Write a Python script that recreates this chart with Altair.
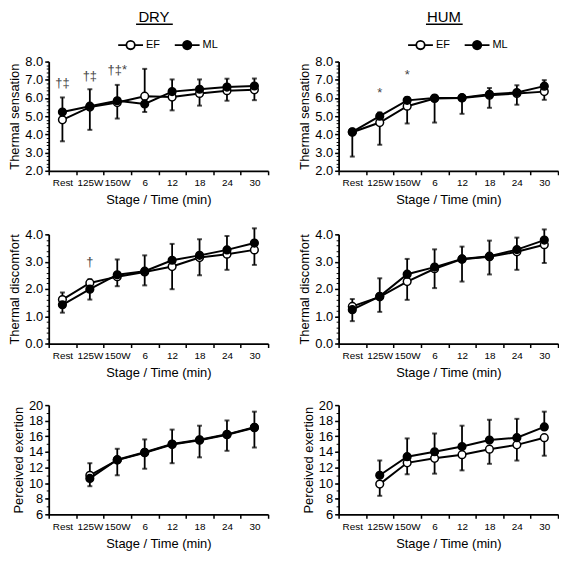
import altair as alt
import pandas as pd

FONT = "Liberation Sans"

stages = ["Rest", "125W", "150W", "6", "12", "18", "24", "30"]
groups = ["EF", "ML"]

# ---- DRY : thermal sensation ----
dry_ts_ef = [4.80, 5.50, 5.75, 6.10, 6.05, 6.25, 6.40, 6.45]
dry_ts_ef_err = [3.62, 4.25, 4.87, 7.60, 5.32, 5.58, 5.85, 5.88]
dry_ts_ml = [5.23, 5.55, 5.85, 5.67, 6.35, 6.48, 6.60, 6.66]
dry_ts_ml_err = [6.03, 6.48, 6.72, 5.23, 7.02, 7.02, 7.06, 7.07]
dry_ts_ann_stage = ["Rest", "125W", "150W"]
dry_ts_ann_y = [6.80, 7.20, 7.55]
dry_ts_ann_text = ["†‡", "†‡", "†‡*"]

# ---- HUM : thermal sensation ----
hum_ts_ef = [4.12, 4.65, 5.55, 5.97, 6.00, 6.15, 6.25, 6.35]
hum_ts_ef_err = [2.78, 3.43, 4.60, 4.65, 5.13, 5.46, 5.63, 5.90]
hum_ts_ml = [4.14, 5.00, 5.87, 6.00, 6.02, 6.20, 6.30, 6.65]
hum_ts_ml_err = [4.30, 5.20, 6.05, 6.15, 6.15, 6.55, 6.70, 6.98]
hum_ts_ann_stage = ["125W", "150W"]
hum_ts_ann_y = [6.25, 7.28]
hum_ts_ann_text = ["*", "*"]

# ---- DRY : thermal discomfort ----
dry_td_ef = [1.61, 2.22, 2.45, 2.62, 2.82, 3.15, 3.27, 3.43]
dry_td_ef_err = [1.87, 2.35, 2.10, 2.13, 1.99, 2.50, 2.70, 2.88]
dry_td_ml = [1.42, 1.99, 2.52, 2.65, 3.05, 3.23, 3.43, 3.68]
dry_td_ml_err = [1.13, 1.61, 3.08, 3.23, 3.65, 3.82, 3.94, 4.22]
dry_td_ann_stage = ["125W"]
dry_td_ann_y = [3.00]
dry_td_ann_text = ["†"]

# ---- HUM : thermal discomfort ----
hum_td_ef = [1.36, 1.71, 2.27, 2.74, 3.09, 3.18, 3.36, 3.62]
hum_td_ef_err = [1.63, 1.16, 1.60, 2.03, 2.27, 2.53, 2.70, 2.95]
hum_td_ml = [1.24, 1.73, 2.54, 2.80, 3.10, 3.20, 3.44, 3.79]
hum_td_ml_err = [0.82, 2.39, 3.10, 3.45, 3.55, 3.77, 3.88, 4.18]

# ---- DRY : perceived exertion ----
dry_pe_ef = [None, 11.00, 12.95, 13.90, 14.95, 15.50, 16.20, 17.10]
dry_pe_ef_err = [None, 12.55, 11.00, 11.84, 12.55, 13.30, 14.14, 14.56]
dry_pe_ml = [None, 10.60, 13.00, 13.95, 15.00, 15.55, 16.25, 17.15]
dry_pe_ml_err = [None, 9.60, 14.40, 15.60, 16.86, 17.36, 18.03, 19.16]

# ---- HUM : perceived exertion ----
hum_pe_ef = [None, 9.87, 12.60, 13.18, 13.64, 14.35, 14.90, 15.82]
hum_pe_ef_err = [None, 8.37, 11.13, 11.21, 11.63, 12.47, 12.89, 13.51]
hum_pe_ml = [None, 11.00, 13.39, 14.02, 14.69, 15.52, 15.82, 17.20]
hum_pe_ml_err = [None, 12.90, 15.73, 16.36, 17.36, 18.12, 18.24, 19.16]

ts_major = [2, 3, 4, 5, 6, 7, 8]
ts_minor = [round(2 + 0.2 * i, 1) for i in range(31)]
td_major = [0, 1, 2, 3, 4]
td_minor = [round(0.2 * i, 1) for i in range(21)]
pe_major = [6, 8, 10, 12, 14, 16, 18, 20]
pe_minor = list(range(6, 21))

LEGEND_SYMBOL = ("M-1,0L-0.34,0M0.34,0L1,0M-0.34,0A0.34,0.34,0,1,0,0.34,0"
                 "A0.34,0.34,0,1,0,-0.34,0Z")

W, H = 221, 110


def make_df(ef, ef_err, ml, ml_err):
    rows = []
    for g, m, e in (("EF", ef, ef_err), ("ML", ml, ml_err)):
        for i, (s, mv, ev) in enumerate(zip(stages, m, e)):
            if mv is None:
                continue
            rows.append({"stage": s, "idx": i, "group": g, "mean": mv, "err": ev})
    return pd.DataFrame(rows)


def panel(df, ytitle, ydomain, major, minor, fmt, ann=None, heading=None,
          legend=False):
    xaxis = alt.Axis(title="Stage / Time (min)", labelAngle=0, tickBand="extent",
                     labelFontSize=10, titleFontSize=13, tickSize=4,
                     labelPadding=3, titlePadding=6, domainWidth=1.8,
                     tickWidth=1.5)
    xenc = alt.X("stage:N", sort=stages,
                 scale=alt.Scale(domain=stages, paddingInner=0, paddingOuter=0),
                 axis=xaxis)
    yscale = alt.Scale(domain=ydomain, nice=False, zero=False)
    base = alt.Chart(df)
    lines = base.mark_line(color="black", strokeWidth=2).encode(
        x=xenc,
        y=alt.Y("mean:Q", scale=yscale,
                axis=alt.Axis(values=major, format=fmt, title=ytitle,
                              labelFontSize=13, titleFontSize=13, tickSize=4,
                              labelPadding=2, titlePadding=3, domainWidth=1.8,
                              tickWidth=1.5)),
        detail="group:N",
        order="idx:Q",
    )
    bars = base.mark_rule(color="black", strokeWidth=1.8).encode(
        x=xenc,
        y=alt.Y("mean:Q", scale=yscale,
                axis=alt.Axis(values=minor, labels=False, domain=False,
                              title=None, tickSize=2.5, tickWidth=1,
                              orient="left")),
        y2="err:Q",
    )
    caps = base.mark_tick(color="black", size=5, thickness=2,
                          orient="horizontal").encode(
        x=xenc, y=alt.Y("err:Q", scale=yscale, axis=None))
    if legend:
        leg = alt.Legend(title=None, orient="none", legendX=69, legendY=-30.5,
                         direction="horizontal", symbolType=LEGEND_SYMBOL,
                         symbolSize=625, symbolStrokeColor="black",
                         symbolStrokeWidth=1.8, labelFontSize=11,
                         labelFont=FONT, labelColor="black", labelOffset=2,
                         columnPadding=10, padding=0)
    else:
        leg = None
    points = base.mark_point(shape="circle", filled=True, size=60,
                             stroke="black", strokeWidth=1.5, opacity=1).encode(
        x=xenc,
        y=alt.Y("mean:Q", scale=yscale, axis=None),
        fill=alt.Fill("group:N",
                      scale=alt.Scale(domain=groups, range=["white", "black"]),
                      legend=leg),
    )
    layers = [lines, bars, caps, points]
    if ann is not None:
        adf = pd.DataFrame({"stage": ann[0], "y": ann[1], "t": ann[2]})
        txt = alt.Chart(adf).mark_text(fontSize=13, color="#444", font=FONT,
                                       baseline="middle").encode(
            x=xenc, y=alt.Y("y:Q", scale=yscale, axis=None), text="t:N")
        layers.append(txt)
    if heading is not None:
        hdf = pd.DataFrame({"h": [heading]})
        head = alt.Chart(hdf).mark_text(fontSize=15, font=FONT, color="black",
                                        baseline="alphabetic",
                                        align="center").encode(
            x=alt.value(106), y=alt.value(-40), text="h:N")
        ul = alt.Chart(hdf).mark_rule(color="black", strokeWidth=1.5).encode(
            x=alt.value(88), x2=alt.value(125), y=alt.value(-37.5))
        layers += [head, ul]
    ch = alt.layer(*layers).resolve_axis(y="independent").properties(
        width=W, height=H)
    return ch


p1 = panel(make_df(dry_ts_ef, dry_ts_ef_err, dry_ts_ml, dry_ts_ml_err),
           "Thermal sensation", [2, 8], ts_major, ts_minor, ".1f",
           ann=(dry_ts_ann_stage, dry_ts_ann_y, dry_ts_ann_text),
           heading="DRY", legend=True)
p2 = panel(make_df(hum_ts_ef, hum_ts_ef_err, hum_ts_ml, hum_ts_ml_err),
           "Thermal sensation", [2, 8], ts_major, ts_minor, ".1f",
           ann=(hum_ts_ann_stage, hum_ts_ann_y, hum_ts_ann_text),
           heading="HUM", legend=True)
p3 = panel(make_df(dry_td_ef, dry_td_ef_err, dry_td_ml, dry_td_ml_err),
           "Thermal discomfort", [0, 4], td_major, td_minor, ".1f",
           ann=(dry_td_ann_stage, dry_td_ann_y, dry_td_ann_text))
p4 = panel(make_df(hum_td_ef, hum_td_ef_err, hum_td_ml, hum_td_ml_err),
           "Thermal discomfort", [0, 4], td_major, td_minor, ".1f")
p5 = panel(make_df(dry_pe_ef, dry_pe_ef_err, dry_pe_ml, dry_pe_ml_err),
           "Perceived exertion", [6, 20], pe_major, pe_minor, "d")
p6 = panel(make_df(hum_pe_ef, hum_pe_ef_err, hum_pe_ml, hum_pe_ml_err),
           "Perceived exertion", [6, 20], pe_major, pe_minor, "d")

chart = alt.concat(p1, p2, p3, p4, p5, p6, columns=2, align="each",
                   spacing={"row": 20, "column": 29}).resolve_scale(
    x="independent", y="independent", fill="independent").resolve_legend(
    fill="independent").properties(
    padding={"left": 0, "top": 0, "right": 0, "bottom": 0}).configure_view(
    stroke=None).configure_axis(
    grid=False, labelFont=FONT, titleFont=FONT, labelColor="black",
    titleColor="black", domainColor="black", tickColor="black",
    titleFontWeight="normal")

chart.save("out.html", embed_options={"renderer": "svg", "actions": False})
